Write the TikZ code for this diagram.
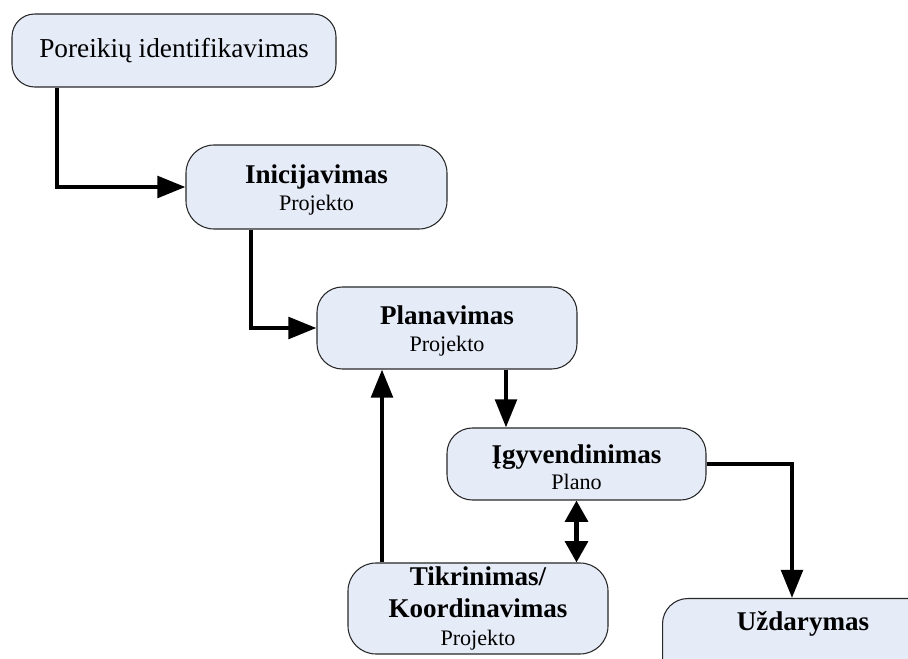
\documentclass[tikz,border=0pt]{standalone}
\usepackage{fontspec}
\setmainfont{Liberation Serif}
\usetikzlibrary{arrows.meta}
\definecolor{boxfill}{RGB}{229,235,247}
\definecolor{boxline}{RGB}{40,40,40}
\begin{document}
\begin{tikzpicture}[x=0.75pt,y=-0.75pt,
  phase/.style={draw=boxline,line width=0.8pt,fill=boxfill,rounded corners=19pt,
    align=center,inner sep=0pt,
    font=\fontsize{16.6pt}{20pt}\selectfont},
  flow/.style={line width=3.2pt,-{Triangle[length=21pt,width=16pt]}},
  both/.style={line width=3.2pt,{Triangle[length=16pt,width=17pt]}-{Triangle[length=16pt,width=17pt]}}]
\newcommand{\phasetitle}[1]{{\fontsize{20.3pt}{20pt}\selectfont\bfseries #1}}
% a taller first line lowers a two-line label a little inside its box
\newcommand{\phasestrut}{\rule{0pt}{19pt}}
\useasboundingbox (0,0) rectangle (908,659);
\clip (0,0) rectangle (908,659);

% phases of the project life cycle
\node[phase,minimum width=243pt,minimum height=54.75pt,rounded corners=17pt,
  font=\fontsize{20.5pt}{22pt}\selectfont] (d1) at (174,50.5) {Poreikių identifikavimas};
\node[phase,minimum width=195.75pt,minimum height=63pt,rounded corners=21pt] (d2) at (316.5,187)
  {\phasestrut\phasetitle{Inicijavimas}\\Projekto};
\node[phase,minimum width=195pt,minimum height=61.5pt] (d3) at (447,328)
  {\phasestrut\phasetitle{Planavimas}\\Projekto};
\node[phase,minimum width=194.25pt,minimum height=54pt] (d4) at (576.5,464)
  {\phasestrut\phasetitle{Įgyvendinimas}\\Plano};
\node[phase,minimum width=195pt,minimum height=68.25pt,rounded corners=21pt] (d5) at (478,608.5)
  {\phasetitle{Tikrinimas/}\\[4pt]\phasetitle{Koordinavimas}\\[1pt]Projekto};
\node[phase,minimum width=211.5pt,minimum height=69pt,anchor=north west] (d6) at (662,598) {};
\node (d6t) at (803,624) {\phasetitle{Uždarymas}};

% bend points of the connectors
\coordinate (p1) at (57,0);
\coordinate (p2) at (251,0);
\coordinate (p3) at (506,0);
\coordinate (p4) at (792,0);
\coordinate (p5) at (382,0);

% connectors
\draw[flow] (d1.south -| p1) |- (d2.west);
\draw[flow] (d2.south -| p2) |- (d3.west);
\draw[flow] (d3.south -| p3) -- (d4.north -| p3);
\draw[flow] (d4.east) -| (p4 |- d6.north);
\draw[flow] (d5.north -| p5) -- (d3.south -| p5);
\draw[both] (d4.south) -- (d5.north -| d4.south);
\end{tikzpicture}
\end{document}
